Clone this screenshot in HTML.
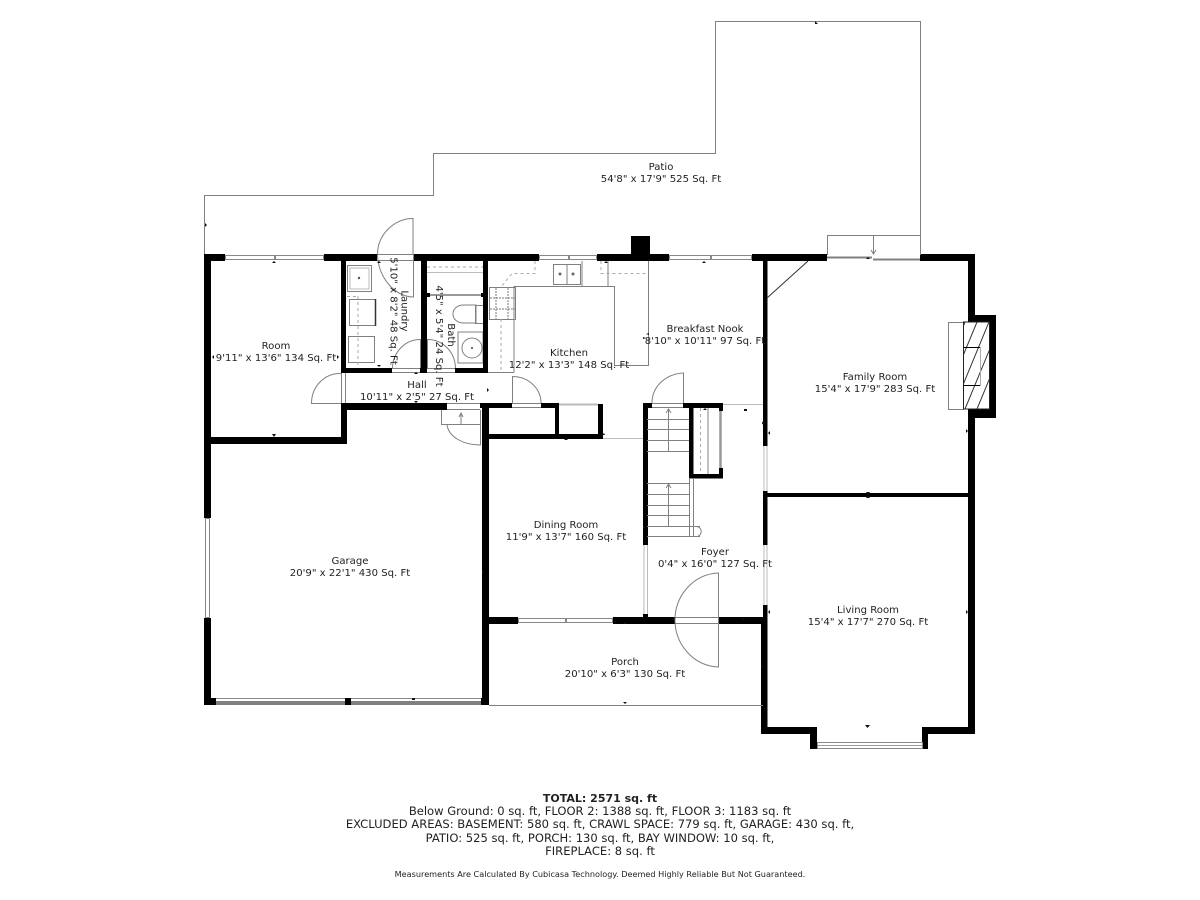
<!DOCTYPE html>
<html><head><meta charset="utf-8"><style>
html,body{margin:0;padding:0;background:#fff}
svg{display:block}
text{font-family:"DejaVu Sans",sans-serif;font-size:10.1px;fill:#222;text-anchor:middle}
.g{fill:none;stroke:#808080;stroke-width:1}
.l{fill:none;stroke:#bbb;stroke-width:1}
.d{fill:none;stroke:#aaa;stroke-width:1;stroke-dasharray:3 3}
.f{font-size:11.55px}
</style></head><body>
<svg width="1200" height="900" viewBox="0 0 1200 900" xmlns="http://www.w3.org/2000/svg">
<defs><clipPath id="fp"><rect x="964" y="322" width="25" height="87"/></clipPath></defs>
<rect width="1200" height="900" fill="#fff"/>
<!-- patio -->
<path class="g" d="M204.500 254V195.500H433.500V153.500H715.500V21.500H920.500V254"/>
<!-- kitchen lines -->
<g class="g">
<path d="M514 372V286.500H614.500V365.500H648.500V261"/>
<path d="M488 372.500H514"/>
<path d="M582 261V286M608 261V286"/>
<rect x="553.500" y="264.500" width="27" height="20"/>
<path d="M567 264V284"/>
<rect x="489.500" y="287.500" width="26" height="32"/>
</g>
<g stroke="#777" stroke-width="1">
<path d="M490 298H515M490 309H515M496 288V319M508 288V319" stroke-dasharray="2 1"/>
</g>
<path class="d" d="M535 261V273.500H512L501 287M501 319V372M601 261V273.500H648"/>
<circle cx="560" cy="274" r="1.500" fill="#666"/><circle cx="573" cy="274" r="1.500" fill="#666"/>
<!-- laundry fixtures -->
<g class="g">
<rect x="347.500" y="265.500" width="24" height="26"/>
<rect x="350" y="268" width="19" height="21" class="l"/>
<rect x="349.500" y="299.500" width="26" height="26"/>
<rect x="348.500" y="336.500" width="26" height="26"/>
</g>
<path d="M375.500 299V326" stroke="#333" stroke-width="1.500"/>
<path class="d" d="M347 296.500H357M358 296V365"/>
<circle cx="359" cy="278" r="1.200" fill="#555"/>
<!-- bath -->
<path class="d" d="M427 267H483"/>
<path class="l" d="M427 272.500H483"/>
<path d="M427 295H483" stroke="#999" stroke-width="2"/>
<rect x="426" y="293" width="4" height="4"/><rect x="481" y="293" width="4" height="4"/>
<g class="g">
<path d="M476 305H464C457 305 453 309 453 314C453 319 457 323 464 323H476Z"/>
<rect x="475.500" y="305.500" width="8" height="18"/>
<rect x="458" y="332" width="25" height="31"/>
<circle cx="472" cy="348" r="10"/>
</g>
<circle cx="472" cy="348" r="1" fill="#444"/>
<!-- walls -->
<g fill="#000">
<rect x="204" y="254" width="21" height="7"/>
<rect x="324" y="254" width="53" height="7"/>
<rect x="413" y="254" width="126" height="7"/>
<rect x="597" y="254" width="72" height="7"/>
<rect x="631" y="236" width="19" height="18"/>
<rect x="752" y="254" width="75" height="7"/>
<rect x="920" y="254" width="55" height="7"/>
<rect x="204" y="254" width="7" height="264"/>
<rect x="204" y="618" width="7" height="87"/>
<rect x="204" y="437" width="143" height="7"/>
<rect x="341" y="260" width="5" height="113"/>
<rect x="341" y="403" width="6" height="40"/>
<rect x="341" y="368" width="51" height="5"/>
<rect x="421" y="260" width="6" height="113"/>
<rect x="420" y="368" width="7" height="5"/>
<rect x="455" y="368" width="33" height="5"/>
<rect x="483" y="260" width="5" height="113"/>
<rect x="341" y="403" width="106" height="7"/>
<rect x="480" y="403" width="32" height="5"/>
<rect x="541" y="403" width="18" height="5"/>
<rect x="482" y="403" width="7" height="302"/>
<rect x="555" y="403" width="4" height="36"/>
<rect x="598" y="404" width="5" height="35"/>
<rect x="482" y="434" width="121" height="5"/>
<rect x="204" y="698" width="12" height="7"/>
<rect x="345" y="698" width="6" height="7"/>
<rect x="481" y="698" width="8" height="7"/>
<rect x="489" y="617" width="29" height="7"/>
<rect x="613" y="617" width="62" height="7"/>
<rect x="718" y="617" width="49" height="7"/>
<rect x="643" y="403" width="5" height="142"/>
<rect x="643" y="614" width="5" height="4"/>
<rect x="643" y="403" width="9" height="5"/>
<rect x="683" y="403" width="40" height="5"/>
<rect x="689" y="403" width="4.500" height="75"/>
<rect x="689" y="474" width="34" height="4.500"/>
<rect x="719" y="403" width="4" height="8"/>
<rect x="719" y="468" width="4" height="10"/>
<rect x="763" y="260" width="4.500" height="186"/>
<rect x="763" y="491" width="4.500" height="54"/>
<rect x="763" y="605" width="4.500" height="20"/>
<rect x="761" y="622" width="6.500" height="112"/>
<rect x="767" y="493" width="201" height="4"/>
<rect x="968" y="254" width="7" height="480"/>
<rect x="968" y="315" width="28" height="7"/>
<rect x="989" y="315" width="7" height="103"/>
<rect x="968" y="409" width="28" height="9"/>
<rect x="761" y="727" width="56" height="7"/>
<rect x="810" y="727" width="7" height="22"/>
<rect x="922" y="727" width="53" height="7"/>
<rect x="922" y="727" width="6" height="22"/>
</g>
<!-- windows -->
<g fill="#fff" stroke="#888" stroke-width="1">
<rect x="225.500" y="255.500" width="49" height="4"/>
<rect x="275.500" y="255.500" width="48" height="4"/>
<rect x="539.500" y="255.500" width="29" height="4"/>
<rect x="569.500" y="255.500" width="27" height="4"/>
<rect x="669.500" y="255.500" width="41" height="4"/>
<rect x="711.500" y="255.500" width="40" height="4"/>
<rect x="518.500" y="618.500" width="47" height="4"/>
<rect x="566.500" y="618.500" width="46" height="4"/>
<rect x="205.500" y="518.500" width="4" height="99"/>
<rect x="817.500" y="742.500" width="105" height="6"/>
</g>
<path d="M818 745.500H922" stroke="#999"/>
<path d="M559 404.500H598" stroke="#bbb" stroke-width="2"/>
<path d="M720.500 411V468" stroke="#999" stroke-width="2.500"/>
<!-- garage door -->
<rect x="216" y="698" width="129" height="1" fill="#888"/><rect x="216" y="701" width="129" height="4" fill="#808080"/>
<rect x="351" y="698" width="130" height="1" fill="#888"/><rect x="351" y="701" width="130" height="4" fill="#808080"/>
<!-- thin lines -->
<path class="g" d="M489 705.500H763"/>
<path class="l" d="M603 438.500H643M644 545V614M647.500 545V614M764 446V491M767 446V491M764 545V605M767 545V605M723 404.500H763"/>
<!-- doors -->
<g class="g">
<path d="M413 254V218.500C394 218.500 377.500 235 377.500 254C377.500 276 394 297 413.500 297V254"/>
<path d="M377 254.500H413M377 260.500H413"/>
<path d="M341 403.500H311.500C311.500 386 325 373 341 373.500"/>
<path d="M420.500 368V339.500C405 339.500 393 352 392.500 368"/>
<path d="M427.500 368V339.500C443 339.500 455 352 455.500 368"/>
<path d="M392 368.500H420M392 372.500H420M427 368.500H455M427 372.500H455"/>
<path d="M341.500 373V403M345.500 373V403"/>
<path d="M447 403.500H480M447 409.500H480"/>
<path d="M441.500 410V424.500H480M461 424V414M459 417L461 413L463 417"/>
<path d="M480.500 410V445C463 445 449 437 447 425"/>
<path d="M512.500 403V376.500C529 376.500 541 389 541 403"/>
<path d="M512 403.500H541M512 407.500H541"/>
<path d="M683.500 403V373C665 374 652 387 652 403"/>
<path d="M652 403.500H683M652 407.500H683"/>
<path d="M718.500 573V667C694 666 675 645 675 620C675 595 694 574 718.500 573Z"/>
<path d="M675 617.500H718M675 623.500H718M718.500 617V624"/>
<!-- stairs -->
<path d="M647 419.500H689M647 429.500H689M647 440.500H689M647 451.500H689"/>
<path d="M647 483.500H689M647 494.500H689M647 505.500H689M647 515.500H689M647 526.500H700M647 536.500H700"/>
<path d="M668.500 451V409M668.500 526V484M666 413L668.500 409L671 413M666 488L668.500 484L671 488"/>
<path d="M689.500 478V536M693.500 478V536M693 526.500H696C703 526.500 703 536.500 696 536.500H693"/>
<!-- closet -->
<path d="M708 408V474"/>
<!-- slider -->
<path d="M827.500 255V235.500H920.500V255"/>
<path d="M873.500 235V253M871 250L873.500 254L876 250"/>
<path d="M827 257.500H872M873 259.500H920" stroke-width="2"/>
<!-- fireplace -->
<rect x="948.500" y="322.500" width="15" height="87"/>
</g>
<path class="d" d="M700.500 408V474"/>
<path d="M767 298L808 261" stroke="#333" stroke-width="1" fill="none"/>
<!-- fireplace hatch -->
<rect x="963.500" y="322" width="26" height="87" fill="#fff" stroke="#222"/>
<g stroke="#333" stroke-width="1" fill="none" clip-path="url(#fp)">
<path d="M929 409L965 322M941 409L977 322M953 409L989 322M965 409L1001 322M977 409L1013 322"/>
</g>
<path d="M963.500 347.500H981M963.500 385.500H981" stroke="#000" fill="none"/>
<path d="M980.500 347V386" stroke="#aaa" fill="none"/>
<!-- small ticks -->
<g fill="#111">
<path d="M815 21l3 3h-3zM205 223l2 2-2 2zM274 261l2 2h-4zM274 437l2-3h-4zM212 357l2-2v4zM339 357l-2-2v4zM379 261l2 2h-4zM379 367l2-2h-4zM416 372l2 2h-4zM416 403l2-2h-4z"/>
<path d="M606 261l2 2h-4zM704 261l2 2h-4zM487 388l2 2-2 2zM566 438l2 2h-4zM604 433l-2 2h3zM646 338l-3-1v2zM646 334l3-1v2z"/>
<path d="M705 408l2 2h-4zM744 409h3v2h-3zM762 423a1.500 1.500 0 1 0 3 0a1.500 1.500 0 1 0-3 0M768 433l2-2v4zM868 257l2 2h-4zM868 495l2-3h-4zM868 495l2 3h-4zM968 431l-2-2v4z"/>
<path d="M482 570l2 2-2 2zM412 698h3v2h-3zM865 725h5l-2.500 3zM968 612l-2-2v4zM625 622l2 2h-4zM625 704l2-2h-4zM645 527l-2-2v4zM743 618l2 2h-4zM768 612l2-2v4zM761 664l2 2-2 2z"/>
</g>
<!-- labels -->
<text x="661" y="170">Patio</text>
<text x="661" y="182">54'8" x 17'9" 525 Sq. Ft</text>
<text x="276" y="349">Room</text>
<text x="276" y="361">9'11" x 13'6" 134 Sq. Ft</text>
<text x="401.500" y="311" transform="rotate(90 401.500 311)">Laundry</text>
<text x="390.500" y="311" transform="rotate(90 390.500 311)">5'10" x 8'2" 48 Sq. Ft</text>
<text x="448" y="335" transform="rotate(90 448 335)">Bath</text>
<text x="436" y="336" transform="rotate(90 436 336)">4'5" x 5'4" 24 Sq. Ft</text>
<text x="417" y="388">Hall</text>
<text x="417" y="400">10'11" x 2'5" 27 Sq. Ft</text>
<text x="569" y="356">Kitchen</text>
<text x="569" y="368">12'2" x 13'3" 148 Sq. Ft</text>
<text x="705" y="332">Breakfast Nook</text>
<text x="705" y="344">8'10" x 10'11" 97 Sq. Ft</text>
<text x="875" y="380">Family Room</text>
<text x="875" y="392">15'4" x 17'9" 283 Sq. Ft</text>
<text x="566" y="528">Dining Room</text>
<text x="566" y="540">11'9" x 13'7" 160 Sq. Ft</text>
<text x="715" y="555">Foyer</text>
<text x="715" y="567">0'4" x 16'0" 127 Sq. Ft</text>
<text x="350" y="564">Garage</text>
<text x="350" y="576">20'9" x 22'1" 430 Sq. Ft</text>
<text x="868" y="613">Living Room</text>
<text x="868" y="625">15'4" x 17'7" 270 Sq. Ft</text>
<text x="625" y="665">Porch</text>
<text x="625" y="677">20'10" x 6'3" 130 Sq. Ft</text>
<!-- footer -->
<text x="600" y="802" style="font-weight:bold;font-size:11px">TOTAL: 2571 sq. ft</text>
<text class="f" x="600" y="815">Below Ground: 0 sq. ft, FLOOR 2: 1388 sq. ft, FLOOR 3: 1183 sq. ft</text>
<text class="f" x="600" y="828">EXCLUDED AREAS: BASEMENT: 580 sq. ft, CRAWL SPACE: 779 sq. ft, GARAGE: 430 sq. ft,</text>
<text class="f" x="600" y="842">PATIO: 525 sq. ft, PORCH: 130 sq. ft, BAY WINDOW: 10 sq. ft,</text>
<text class="f" x="600" y="855">FIREPLACE: 8 sq. ft</text>
<text x="600" y="877" style="font-size:8.15px">Measurements Are Calculated By Cubicasa Technology. Deemed Highly Reliable But Not Guaranteed.</text>
</svg>
</body></html>
